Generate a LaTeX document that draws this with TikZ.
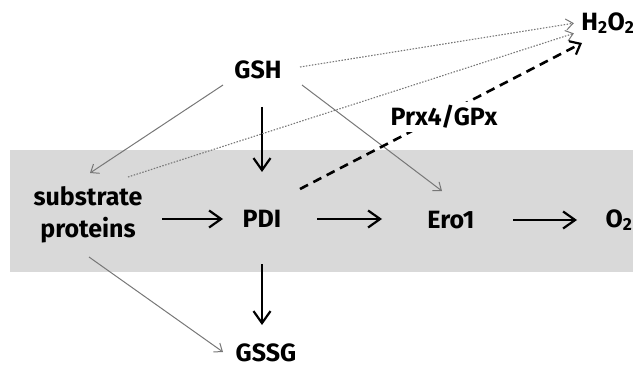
\documentclass[tikz,border=0pt]{standalone}
\usepackage{fontspec}
\setmainfont{Fira Sans}
\usetikzlibrary{arrows.meta,calc}
\definecolor{bandgray}{HTML}{D9D9D9}
\definecolor{thingray}{HTML}{777777}
\begin{document}
\begin{tikzpicture}[x=1pt,y=-1pt,
  lbl/.style={font=\fontsize{25}{32}\selectfont\bfseries, inner sep=1pt, align=center},
  mainarrow/.style={line width=2.2pt, -{Straight Barb[length=12pt,width=17pt,line width=2.2pt]}},
  thinarrow/.style={line width=1pt, draw=thingray, -{Straight Barb[length=7pt,width=11pt,line width=1pt]}},
  dotarrow/.style={line width=1.1pt, draw=thingray, dash pattern=on 1.5pt off 1.5pt, -{Straight Barb[length=7pt,width=11pt,line width=1pt,sep]}},
  dasharrow/.style={line width=2.6pt, dash pattern=on 9pt off 6pt, -{Straight Barb[length=9pt,width=15pt,line width=2.2pt]}}
]
\useasboundingbox (0,0) rectangle (633,369);
\fill[bandgray] (10,150) rectangle (633,272);

\node[lbl] (gsh)  at (258,70)  {GSH};
\node[lbl] (h2o2) at (608,23)  {H\textsubscript{2}O\textsubscript{2}};
\node[lbl] (sub)  at (88,215)  {substrate\\proteins};
\node[lbl] (pdi)  at (262,219) {PDI};
\node[lbl] (ero)  at (451,220) {Ero1};
\node[lbl] (o2)   at (619,220) {O\textsubscript{2}};
\node[lbl] (gssg) at (266,353) {GSSG};

% main black arrows
\draw[mainarrow, shorten <=74pt, shorten >=39pt] (pdi.center -| sub.center) -- (pdi.center);
\draw[mainarrow, shorten <=55pt, shorten >=69pt] (pdi.center) -- (pdi.center -| ero.center);
\draw[mainarrow, shorten <=62pt, shorten >=42pt] (ero.center) -- (ero.center -| o2.center);
\draw[mainarrow, shorten <=37pt, shorten >=47pt] (gsh.center -| pdi.center) -- (pdi.center);
\draw[mainarrow, shorten <=45pt, shorten >=28pt] (pdi.center) -- (gssg.center -| pdi.center);

% thin gray arrows
\draw[thinarrow] ($(gsh)+(-35,15)$) -- ($(sub)+(2,-42)$);
\draw[thinarrow] ($(gsh)+(44,15)$) -- ($(ero)+(-9,-29)$);
\draw[thinarrow] ($(sub)+(1,42)$) -- ($(gssg)+(-43,-1)$);

% dotted gray arrows
\draw[dotarrow] ($(gsh)+(42,-3)$) -- ($(h2o2)+(-33,0)$);
\draw[dotarrow] ($(sub)+(40,-38)$) -- ($(h2o2)+(-33,10)$);

% dashed arrow with label
\draw[dasharrow] ($(pdi)+(38,-30)$) -- ($(h2o2)+(-26,20)$);
\node[lbl, fill=white, inner sep=3pt] (prx) at (444,117) {Prx4/GPx};
\end{tikzpicture}
\end{document}
